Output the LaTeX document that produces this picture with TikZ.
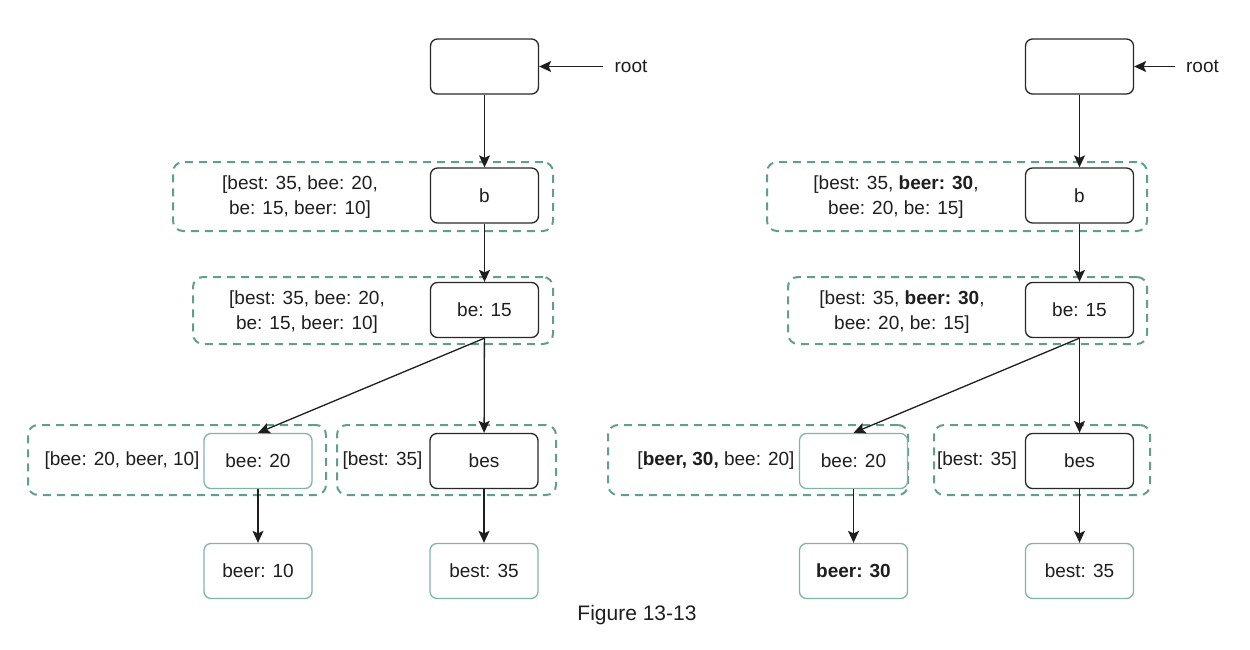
\documentclass[tikz,border=0pt]{standalone}
\usepackage{fontspec}
\setmainfont{Liberation Sans}
\usetikzlibrary{arrows.meta}
\definecolor{grp}{RGB}{98,158,142}
\definecolor{leafc}{RGB}{128,180,168}
\definecolor{inner}{RGB}{40,40,40}
\definecolor{ink}{RGB}{30,30,30}

\begin{document}
\begin{tikzpicture}[x=1pt,y=-1pt,
  every node/.style={font=\fontsize{19}{25}\selectfont, text=ink},
  trie/.style={draw=inner, line width=1.3pt, rounded corners=7pt, fill=white,
               minimum width=108pt, minimum height=55pt, inner sep=0pt},
  leaf/.style={trie, draw=leafc},
  group/.style={draw=grp, line width=2pt, dash pattern=on 8pt off 6pt,
                rounded corners=10pt, inner sep=0pt},
  lbl/.style={align=center, inner sep=0pt},
  ptr/.style={inner xsep=11pt, inner ysep=0pt},
  edge/.style={-{Stealth[length=12pt,width=11pt,inset=2.5pt]}, line width=1.3pt, draw=ink}
]
\useasboundingbox (0,0) rectangle (1250,650);

% ---------- left trie: cached top-k lists before the update ----------
\node[group, minimum width=380pt, minimum height=69pt] (gbL)   at (363,196.5) {};
\node[group, minimum width=360pt, minimum height=67pt] (gbeL)  at (373,310.5) {};
\node[group, minimum width=298pt, minimum height=70pt] (gbeeL) at (177,460) {};
\node[group, minimum width=219pt, minimum height=70pt] (gbesL) at (446.5,460) {};

\node[trie] (rootL)  at (484.5,66.5) {};
\node[trie] (bL)     at (484.5,195.5) {b};
\node[trie] (beL)    at (484.5,310) {be: 15};
\node[leaf] (beeL)   at (258,461) {bee: 20};
\node[trie] (besL)   at (484,461) {bes};
\node[leaf] (beerL)  at (258,571) {beer: 10};
\node[leaf] (bestL)  at (484,571) {best: 35};

\node[lbl] (lbL)   at (300,197) {[best: 35, bee: 20,\\ be: 15, beer: 10]};
\node[lbl] (lbeL)  at (307,312) {[best: 35, bee: 20,\\ be: 15, beer: 10]};
\node[lbl] (lbeeL) at (122,461) {[bee: 20, beer, 10]};
\node[lbl] (lbesL) at (382.5,461) {[best: 35]};

\node[ptr] (rootlblL) at (631,66.5) {root};

\draw[edge] (rootlblL) -- (rootL);
\draw[edge] (rootL) -- (bL);
\draw[edge] (bL) -- (beL);
\draw[edge] (beL.south) -- (beeL.north);
\draw[edge] (beL) -- (besL);
\draw[edge] (beeL) -- (beerL);
\draw[edge] (besL) -- (bestL);

% ---------- right trie: lists after beer rises to 30 ----------
\node[group, minimum width=380pt, minimum height=69pt] (gbR)   at (957,196.5) {};
\node[group, minimum width=359pt, minimum height=67pt] (gbeR)  at (967.5,310.5) {};
\node[group, minimum width=300pt, minimum height=70pt] (gbeeR) at (758,460) {};
\node[group, minimum width=216pt, minimum height=70pt] (gbesR) at (1042,460) {};

\node[trie] (rootR)  at (1079.5,66.5) {};
\node[trie] (bR)     at (1079.5,195.5) {b};
\node[trie] (beR)    at (1079.5,310) {be: 15};
\node[leaf] (beeR)   at (853.5,461) {bee: 20};
\node[trie] (besR)   at (1079.5,461) {bes};
\node[leaf] (beerR)  at (853.5,571) {\textbf{beer: 30}};
\node[leaf] (bestR)  at (1079.5,571) {best: 35};

\node[lbl] (lbR)   at (896,197) {[best: 35, \textbf{beer: 30},\\ bee: 20, be: 15]};
\node[lbl] (lbeR)  at (902,312) {[best: 35, \textbf{beer: 30},\\ bee: 20, be: 15]};
\node[lbl] (lbeeR) at (716,461) {[\textbf{beer, 30,} bee: 20]};
\node[lbl] (lbesR) at (977,461) {[best: 35]};

\node[ptr] (rootlblR) at (1202.5,66.5) {root};

\draw[edge] (rootlblR) -- (rootR);
\draw[edge] (rootR) -- (bR);
\draw[edge] (bR) -- (beR);
\draw[edge] (beR.south) -- (beeR.north);
\draw[edge] (beR) -- (besR);
\draw[edge] (beeR) -- (beerR);
\draw[edge] (besR) -- (bestR);

% ---------- caption ----------
\node[inner sep=0pt, font=\fontsize{21}{25}\selectfont] (caption) at (637,615) {Figure 13-13};
\end{tikzpicture}
\end{document}
